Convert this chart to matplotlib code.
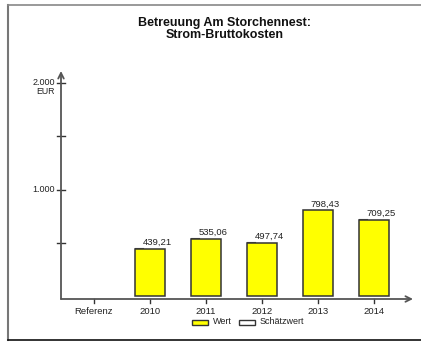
import matplotlib.pyplot as plt
from matplotlib.patches import Rectangle
from matplotlib.lines import Line2D

plt.rcParams['font.family'] = ['Liberation Sans', 'DejaVu Sans']

categories = ['Referenz', '2010', '2011', '2012', '2013', '2014']
values = [None, 439.21, 535.06, 497.74, 798.43, 709.25]
value_labels = ['', '439,21', '535,06', '497,74', '798,43', '709,25']
y_ticks = [500, 1000, 1500, 2000]
y_tick_labels = {1000: '1.000', 2000: '2.000'}
y_unit = 'EUR'
title = 'Betreuung Am Storchennest:\nStrom-Bruttokosten'

W, H = 421, 343
fig = plt.figure(figsize=(W / 100, H / 100), dpi=100)


def px(x, y):
    # pixel position (from top-left) -> figure fraction
    return x / W, 1 - y / H


# axes box in pixels
ax_l, ax_r, ax_t, ax_b = 61, 413, 71, 299
ax = fig.add_axes([ax_l / W, 1 - ax_b / H, (ax_r - ax_l) / W, (ax_b - ax_t) / H])
ax.set_xlim(-0.589, 5.696)
ax.set_ylim(-18.7, 2112)
for s in ax.spines.values():
    s.set_visible(False)
ax.set_xticks([])
ax.set_yticks([])
ax.patch.set_alpha(0)

axis_col = '#555555'
# axes with arrows
ax.annotate('', xy=(0, 1.0), xytext=(0, 0), xycoords='axes fraction',
            arrowprops=dict(arrowstyle='->', color=axis_col, lw=1.3,
                            shrinkA=0, shrinkB=0, mutation_scale=10))
ax.annotate('', xy=(1.0, 0), xytext=(0, 0), xycoords='axes fraction',
            arrowprops=dict(arrowstyle='->', color=axis_col, lw=1.3,
                            shrinkA=0, shrinkB=0, mutation_scale=10))

# y ticks (crossing the axis)
trans_y = ax.get_yaxis_transform()
for t in y_ticks:
    ax.plot([-0.012, 0.012], [t, t], transform=trans_y, color='#333333', lw=1, clip_on=False)
    if t in y_tick_labels:
        ax.text(-0.017, t, y_tick_labels[t], transform=trans_y, ha='right', va='center',
                fontsize=6.5, color='#222222', clip_on=False)
# unit under the top label
ax.text(-0.045, max(y_ticks) - 40, y_unit, transform=trans_y, ha='center', va='top',
        fontsize=6.3, color='#222222', clip_on=False)

# x ticks and labels
trans_x = ax.get_xaxis_transform()
for i, c in enumerate(categories):
    ax.plot([i, i], [0, -0.018], transform=trans_x, color='#333333', lw=1, clip_on=False)
    ax.text(i, -0.035, c, transform=trans_x, ha='center', va='top',
            fontsize=6.8, color='#222222', clip_on=False)

# bars
bw = 0.55
for i, v in enumerate(values):
    if v is None:
        continue
    ax.bar(i, v, width=bw, bottom=10, color='#ffff00', edgecolor='#333333',
           linewidth=1.1, zorder=3)
    ax.plot([i - bw / 2, i - 0.13], [v + 15, v + 15], color='#555555', lw=0.8, zorder=2)
    ax.text(i - 0.13, v + 30, value_labels[i], ha='left', va='bottom',
            fontsize=6.8, color='#222222')

# title
x0, y0 = px(225, 29)
fig.text(x0, y0, title, ha='center', va='center', fontsize=9,
         fontweight='bold', color='#111111', linespacing=1.1)

# legend (manual)
ly = 322
for (xa, xb, fc), (tx, lab) in zip([(192, 208, '#ffff00'), (239, 255, 'white')],
                                   [(213, 'Wert'), (260, 'Schätzwert')]):
    p0 = px(xa, ly + 2.5)
    fig.patches.append(Rectangle(p0, (xb - xa) / W, 5 / H, transform=fig.transFigure,
                                 facecolor=fc, edgecolor='#333333', lw=1))
    tp = px(tx, ly)
    fig.text(tp[0], tp[1], lab, ha='left', va='center', fontsize=6.5, color='#222222')

# outer frame
fig.lines.append(Line2D([8 / W, 8 / W], [1 - 5 / H, 1 - 340 / H], transform=fig.transFigure,
                        color='#777777', lw=1.5))
fig.lines.append(Line2D([8 / W, 1], [1 - 5 / H, 1 - 5 / H], transform=fig.transFigure,
                        color='#888888', lw=1.2))
fig.lines.append(Line2D([8 / W, 1], [1 - 340 / H, 1 - 340 / H], transform=fig.transFigure,
                        color='#111111', lw=1.2))

fig.savefig('out.png', dpi=100)
